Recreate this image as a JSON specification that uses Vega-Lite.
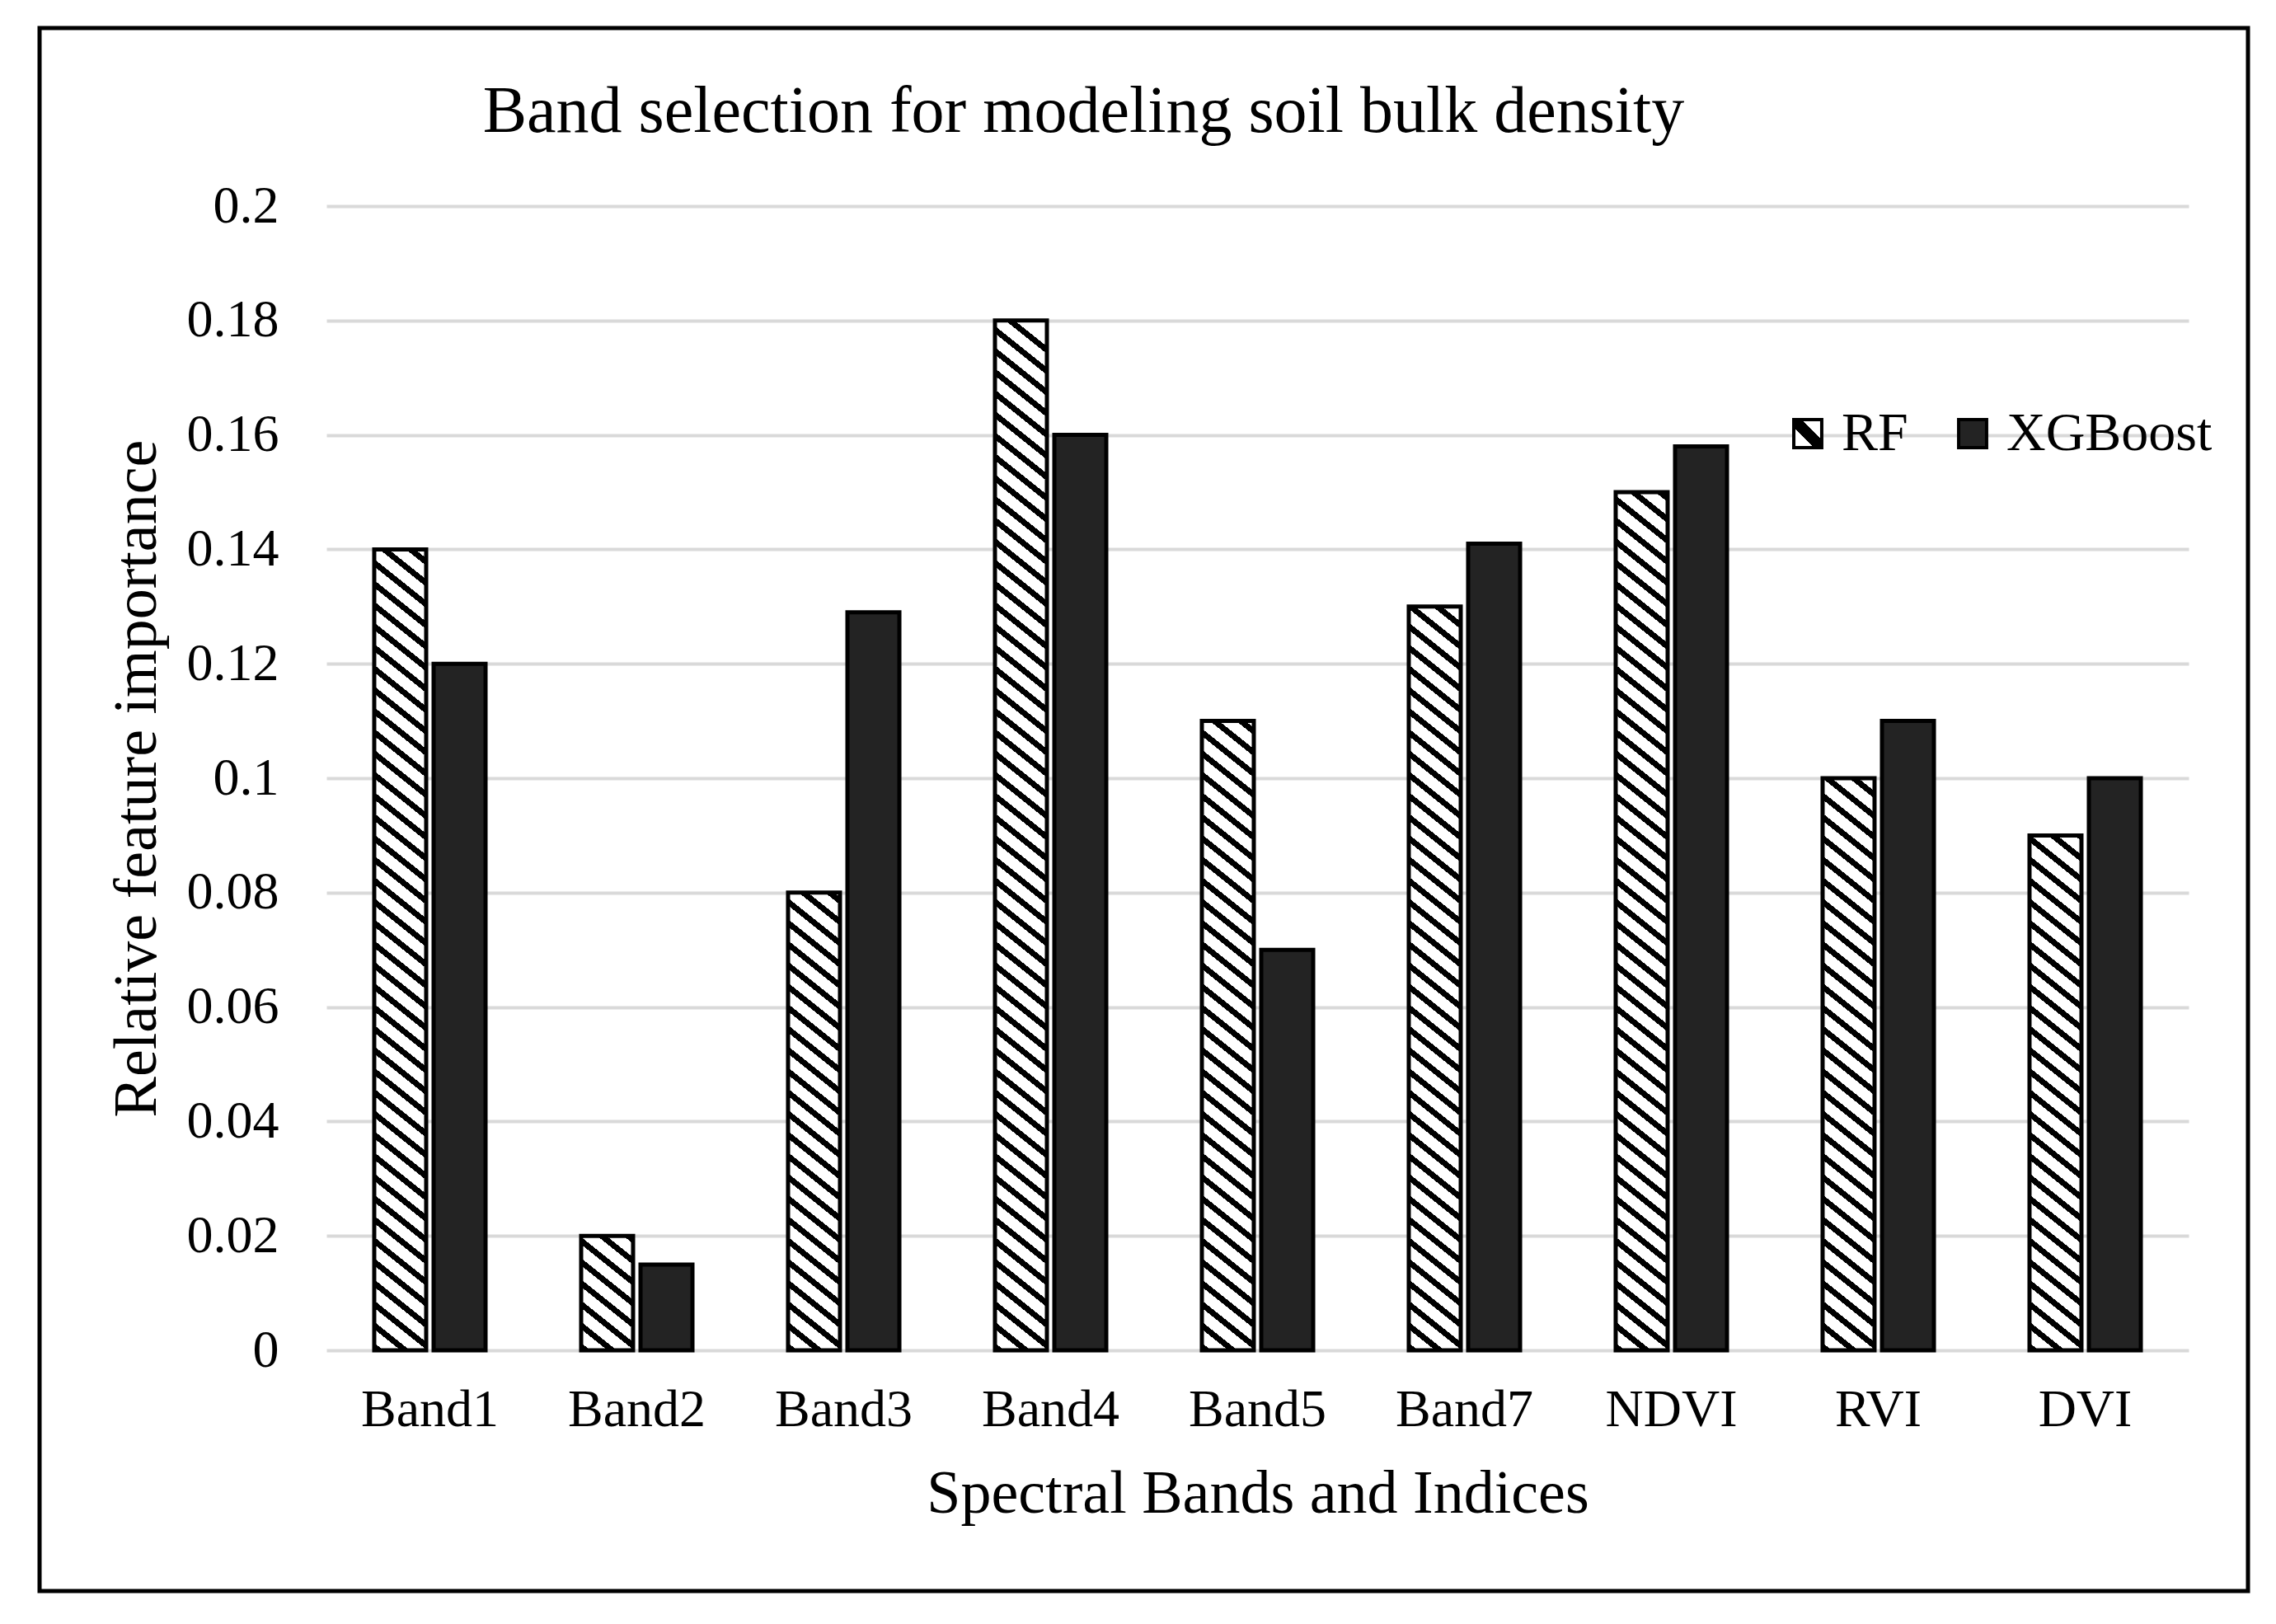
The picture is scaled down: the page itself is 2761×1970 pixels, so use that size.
{
  "$schema": "https://vega.github.io/schema/vega-lite/v6.json",
  "width": 2679,
  "height": 1896,
  "autosize": {"type": "none"},
  "padding": {"left": 48, "top": 34, "right": 34, "bottom": 40},
  "background": "white",
  "params": [
    {"name": "rfStops", "value": [
      {"offset":0,"color":"#000"},{"offset":0.007,"color":"#000"},{"offset":0.007,"color":"#fff"},{"offset":0.02,"color":"#fff"},
      {"offset":0.02,"color":"#000"},{"offset":0.027,"color":"#000"},{"offset":0.027,"color":"#fff"},{"offset":0.04,"color":"#fff"},
      {"offset":0.04,"color":"#000"},{"offset":0.047,"color":"#000"},{"offset":0.047,"color":"#fff"},{"offset":0.06,"color":"#fff"},
      {"offset":0.06,"color":"#000"},{"offset":0.067,"color":"#000"},{"offset":0.067,"color":"#fff"},{"offset":0.08,"color":"#fff"},
      {"offset":0.08,"color":"#000"},{"offset":0.087,"color":"#000"},{"offset":0.087,"color":"#fff"},{"offset":0.1,"color":"#fff"},
      {"offset":0.1,"color":"#000"},{"offset":0.107,"color":"#000"},{"offset":0.107,"color":"#fff"},{"offset":0.12,"color":"#fff"},
      {"offset":0.12,"color":"#000"},{"offset":0.127,"color":"#000"},{"offset":0.127,"color":"#fff"},{"offset":0.14,"color":"#fff"},
      {"offset":0.14,"color":"#000"},{"offset":0.147,"color":"#000"},{"offset":0.147,"color":"#fff"},{"offset":0.16,"color":"#fff"},
      {"offset":0.16,"color":"#000"},{"offset":0.167,"color":"#000"},{"offset":0.167,"color":"#fff"},{"offset":0.18,"color":"#fff"},
      {"offset":0.18,"color":"#000"},{"offset":0.187,"color":"#000"},{"offset":0.187,"color":"#fff"},{"offset":0.2,"color":"#fff"},
      {"offset":0.2,"color":"#000"},{"offset":0.207,"color":"#000"},{"offset":0.207,"color":"#fff"},{"offset":0.22,"color":"#fff"},
      {"offset":0.22,"color":"#000"},{"offset":0.227,"color":"#000"},{"offset":0.227,"color":"#fff"},{"offset":0.24,"color":"#fff"},
      {"offset":0.24,"color":"#000"},{"offset":0.247,"color":"#000"},{"offset":0.247,"color":"#fff"},{"offset":0.26,"color":"#fff"},
      {"offset":0.26,"color":"#000"},{"offset":0.267,"color":"#000"},{"offset":0.267,"color":"#fff"},{"offset":0.28,"color":"#fff"},
      {"offset":0.28,"color":"#000"},{"offset":0.287,"color":"#000"},{"offset":0.287,"color":"#fff"},{"offset":0.3,"color":"#fff"},
      {"offset":0.3,"color":"#000"},{"offset":0.307,"color":"#000"},{"offset":0.307,"color":"#fff"},{"offset":0.32,"color":"#fff"},
      {"offset":0.32,"color":"#000"},{"offset":0.327,"color":"#000"},{"offset":0.327,"color":"#fff"},{"offset":0.34,"color":"#fff"},
      {"offset":0.34,"color":"#000"},{"offset":0.347,"color":"#000"},{"offset":0.347,"color":"#fff"},{"offset":0.36,"color":"#fff"},
      {"offset":0.36,"color":"#000"},{"offset":0.367,"color":"#000"},{"offset":0.367,"color":"#fff"},{"offset":0.38,"color":"#fff"},
      {"offset":0.38,"color":"#000"},{"offset":0.387,"color":"#000"},{"offset":0.387,"color":"#fff"},{"offset":0.4,"color":"#fff"},
      {"offset":0.4,"color":"#000"},{"offset":0.407,"color":"#000"},{"offset":0.407,"color":"#fff"},{"offset":0.42,"color":"#fff"},
      {"offset":0.42,"color":"#000"},{"offset":0.427,"color":"#000"},{"offset":0.427,"color":"#fff"},{"offset":0.44,"color":"#fff"},
      {"offset":0.44,"color":"#000"},{"offset":0.447,"color":"#000"},{"offset":0.447,"color":"#fff"},{"offset":0.46,"color":"#fff"},
      {"offset":0.46,"color":"#000"},{"offset":0.467,"color":"#000"},{"offset":0.467,"color":"#fff"},{"offset":0.48,"color":"#fff"},
      {"offset":0.48,"color":"#000"},{"offset":0.487,"color":"#000"},{"offset":0.487,"color":"#fff"},{"offset":0.5,"color":"#fff"},
      {"offset":0.5,"color":"#000"},{"offset":0.507,"color":"#000"},{"offset":0.507,"color":"#fff"},{"offset":0.52,"color":"#fff"},
      {"offset":0.52,"color":"#000"},{"offset":0.527,"color":"#000"},{"offset":0.527,"color":"#fff"},{"offset":0.54,"color":"#fff"},
      {"offset":0.54,"color":"#000"},{"offset":0.547,"color":"#000"},{"offset":0.547,"color":"#fff"},{"offset":0.56,"color":"#fff"},
      {"offset":0.56,"color":"#000"},{"offset":0.567,"color":"#000"},{"offset":0.567,"color":"#fff"},{"offset":0.58,"color":"#fff"},
      {"offset":0.58,"color":"#000"},{"offset":0.587,"color":"#000"},{"offset":0.587,"color":"#fff"},{"offset":0.6,"color":"#fff"},
      {"offset":0.6,"color":"#000"},{"offset":0.607,"color":"#000"},{"offset":0.607,"color":"#fff"},{"offset":0.62,"color":"#fff"},
      {"offset":0.62,"color":"#000"},{"offset":0.627,"color":"#000"},{"offset":0.627,"color":"#fff"},{"offset":0.64,"color":"#fff"},
      {"offset":0.64,"color":"#000"},{"offset":0.647,"color":"#000"},{"offset":0.647,"color":"#fff"},{"offset":0.66,"color":"#fff"},
      {"offset":0.66,"color":"#000"},{"offset":0.667,"color":"#000"},{"offset":0.667,"color":"#fff"},{"offset":0.68,"color":"#fff"},
      {"offset":0.68,"color":"#000"},{"offset":0.687,"color":"#000"},{"offset":0.687,"color":"#fff"},{"offset":0.7,"color":"#fff"},
      {"offset":0.7,"color":"#000"},{"offset":0.707,"color":"#000"},{"offset":0.707,"color":"#fff"},{"offset":0.72,"color":"#fff"},
      {"offset":0.72,"color":"#000"},{"offset":0.727,"color":"#000"},{"offset":0.727,"color":"#fff"},{"offset":0.74,"color":"#fff"},
      {"offset":0.74,"color":"#000"},{"offset":0.747,"color":"#000"},{"offset":0.747,"color":"#fff"},{"offset":0.76,"color":"#fff"},
      {"offset":0.76,"color":"#000"},{"offset":0.767,"color":"#000"},{"offset":0.767,"color":"#fff"},{"offset":0.78,"color":"#fff"},
      {"offset":0.78,"color":"#000"},{"offset":0.787,"color":"#000"},{"offset":0.787,"color":"#fff"},{"offset":0.8,"color":"#fff"},
      {"offset":0.8,"color":"#000"},{"offset":0.807,"color":"#000"},{"offset":0.807,"color":"#fff"},{"offset":0.82,"color":"#fff"},
      {"offset":0.82,"color":"#000"},{"offset":0.827,"color":"#000"},{"offset":0.827,"color":"#fff"},{"offset":0.84,"color":"#fff"},
      {"offset":0.84,"color":"#000"},{"offset":0.847,"color":"#000"},{"offset":0.847,"color":"#fff"},{"offset":0.86,"color":"#fff"},
      {"offset":0.86,"color":"#000"},{"offset":0.867,"color":"#000"},{"offset":0.867,"color":"#fff"},{"offset":0.88,"color":"#fff"},
      {"offset":0.88,"color":"#000"},{"offset":0.887,"color":"#000"},{"offset":0.887,"color":"#fff"},{"offset":0.9,"color":"#fff"},
      {"offset":0.9,"color":"#000"},{"offset":0.907,"color":"#000"},{"offset":0.907,"color":"#fff"},{"offset":0.92,"color":"#fff"},
      {"offset":0.92,"color":"#000"},{"offset":0.927,"color":"#000"},{"offset":0.927,"color":"#fff"},{"offset":0.94,"color":"#fff"},
      {"offset":0.94,"color":"#000"},{"offset":0.947,"color":"#000"},{"offset":0.947,"color":"#fff"},{"offset":0.96,"color":"#fff"},
      {"offset":0.96,"color":"#000"},{"offset":0.967,"color":"#000"},{"offset":0.967,"color":"#fff"},{"offset":0.98,"color":"#fff"},
      {"offset":0.98,"color":"#000"},{"offset":0.987,"color":"#000"},{"offset":0.987,"color":"#fff"},{"offset":1,"color":"#fff"}
    ]},
    {"name": "lgStops", "value": [
      {"offset":0,"color":"#fff"},{"offset":0.36,"color":"#fff"},{"offset":0.36,"color":"#000"},{"offset":0.64,"color":"#000"},{"offset":0.64,"color":"#fff"},{"offset":1,"color":"#fff"}
    ]}
  ],
  "title": {
    "text": "Band selection for modeling soil bulk density",
    "font": "Liberation Serif",
    "fontSize": 80,
    "fontWeight": "normal",
    "color": "black",
    "anchor": "middle",
    "frame": "group",
    "dx": -73,
    "offset": -206,
    "baseline": "alphabetic"
  },
  "data": {
    "values": [
      {"band": "Band1", "model": "RF", "value": 0.14},
      {"band": "Band1", "model": "XGBoost", "value": 0.12},
      {"band": "Band2", "model": "RF", "value": 0.02},
      {"band": "Band2", "model": "XGBoost", "value": 0.015},
      {"band": "Band3", "model": "RF", "value": 0.08},
      {"band": "Band3", "model": "XGBoost", "value": 0.129},
      {"band": "Band4", "model": "RF", "value": 0.18},
      {"band": "Band4", "model": "XGBoost", "value": 0.16},
      {"band": "Band5", "model": "RF", "value": 0.11},
      {"band": "Band5", "model": "XGBoost", "value": 0.07},
      {"band": "Band7", "model": "RF", "value": 0.13},
      {"band": "Band7", "model": "XGBoost", "value": 0.141},
      {"band": "NDVI", "model": "RF", "value": 0.15},
      {"band": "NDVI", "model": "XGBoost", "value": 0.158},
      {"band": "RVI", "model": "RF", "value": 0.1},
      {"band": "RVI", "model": "XGBoost", "value": 0.11},
      {"band": "DVI", "model": "RF", "value": 0.09},
      {"band": "DVI", "model": "XGBoost", "value": 0.1}
    ]
  },
  "mark": {
    "type": "bar",
    "strokeWidth": 5,
    "fill": {"expr": "datum.model === 'RF' ? {gradient: 'linear', x1: 0, y1: 1, x2: 1028 * bandwidth('xOffset') / (0.64 * pow(bandwidth('xOffset'), 2) + pow(scale('y', 0) - scale('y', datum.value), 2)), y2: 1 - 1285 * (scale('y', 0) - scale('y', datum.value)) / (0.64 * pow(bandwidth('xOffset'), 2) + pow(scale('y', 0) - scale('y', datum.value), 2)), stops: rfStops} : (datum.value === 'RF' || datum.label === 'RF') ? {gradient: 'linear', x1: 0, y1: 1, x2: 1, y2: 0, stops: lgStops} : '#232323'"}
  },
  "encoding": {
    "x": {
      "field": "band",
      "type": "nominal",
      "sort": null,
      "scale": {"range": [348, 2607], "paddingInner": 0.462, "paddingOuter": 0.231},
      "axis": {
        "title": "Spectral Bands and Indices",
        "labelAngle": 0,
        "offset": -292,
        "ticks": false,
        "domain": false,
        "grid": false,
        "labelPadding": 40,
        "labelFont": "Liberation Serif",
        "labelFontSize": 64,
        "labelColor": "black",
        "titleFont": "Liberation Serif",
        "titleFontSize": 74,
        "titleFontWeight": "normal",
        "titleColor": "black",
        "titlePadding": 34
      }
    },
    "xOffset": {
      "field": "model",
      "type": "nominal",
      "sort": ["RF", "XGBoost"],
      "scale": {"paddingInner": 0.125, "paddingOuter": 0}
    },
    "y": {
      "field": "value",
      "type": "quantitative",
      "scale": {"domain": [0, 0.2], "range": [1604, 216], "nice": false},
      "axis": {
        "title": "Relative feature importance",
        "values": [0, 0.02, 0.04, 0.06, 0.08, 0.1, 0.12, 0.14, 0.16, 0.18, 0.2],
        "format": "~g",
        "offset": -348,
        "ticks": false,
        "domain": false,
        "grid": true,
        "gridColor": "#d9d9d9",
        "gridWidth": 4,
        "labelPadding": 58,
        "labelFont": "Liberation Serif",
        "labelFontSize": 64,
        "labelColor": "black",
        "titleFont": "Liberation Serif",
        "titleFontSize": 74,
        "titleFontWeight": "normal",
        "titleColor": "black",
        "titlePadding": 22
      }
    },
    "stroke": {
      "field": "model",
      "type": "nominal",
      "sort": ["RF", "XGBoost"],
      "scale": {"range": ["black", "black"]},
      "legend": {
        "title": null,
        "orient": "none",
        "legendX": 2112,
        "legendY": 459,
        "direction": "horizontal",
        "symbolType": "square",
        "symbolSize": 1150,
        "symbolStrokeWidth": 4,
        "symbolOpacity": 1,
        "labelFont": "Liberation Serif",
        "labelFontSize": 66,
        "labelColor": "black",
        "labelLimit": 600,
        "labelOffset": 8,
        "columnPadding": 45
      }
    }
  },
  "config": {
    "view": {"stroke": "black", "strokeWidth": 5},
    "font": "Liberation Serif"
  }
}
